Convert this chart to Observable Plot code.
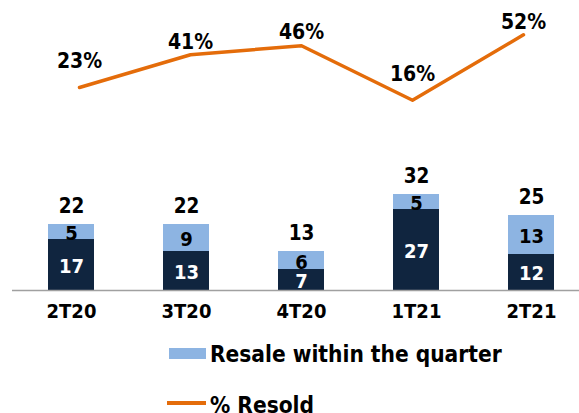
<!DOCTYPE html>
<html><head><meta charset="utf-8">
<script src="https://cdn.jsdelivr.net/npm/d3@7"></script>
<script src="https://cdn.jsdelivr.net/npm/@observablehq/plot@0.6"></script>
<style>
body{margin:0;background:#fff;}
#wrap{position:relative;width:579px;height:413px;overflow:hidden;font-family:"DejaVu Sans Condensed","DejaVu Sans",sans-serif;font-weight:bold;}
#chart svg{position:absolute;left:0;top:0;}
.legtext{position:absolute;font-size:22.5px;line-height:22.5px;color:#000;white-space:nowrap;}
.sw{position:absolute;}
</style></head><body>
<div id="wrap">
  <div id="chart"></div>
  <div id="legend"></div>
</div>
<script>
const quarters = ["2T20","3T20","4T20","1T21","2T21"];
const resaleLater = [17,13,7,27,12];
const resaleWithin = [5,9,6,5,13];
const totals = [22,22,13,32,25];
const pctResold = [23,41,46,16,52];
const legendLabels = ["Resale within the quarter","% Resold"];

const DARK = "#10253f", LIGHT = "#8db4e2", ORANGE = "#e46c0a", FONT = "'DejaVu Sans Condensed','DejaVu Sans',sans-serif";

const rows = quarters.map((q,i)=>({q, later: resaleLater[i], within: resaleWithin[i], total: totals[i], pct: pctResold[i]}));

const xScale = {domain: quarters, range: [12, 590], padding: 0.6, paddingOuter: 0.3, axis: null};
const style = {fontFamily: FONT, fontWeight: "bold", background: "transparent", overflow: "visible"};

const bars = Plot.plot({
  width: 579, height: 330,
  marginTop: 0, marginBottom: 40, marginLeft: 12, marginRight: 0,
  style,
  x: {...xScale},
  y: {domain: [0, 290/3], axis: null},
  marks: [
    Plot.barY(rows, {x: "q", y1: 0, y2: "later", fill: DARK}),
    Plot.barY(rows, {x: "q", y1: "later", y2: d => d.later + d.within, fill: LIGHT}),
    Plot.ruleY([0], {stroke: "#a0a0a0", strokeWidth: 1.3}),
    Plot.text(rows, {x: "q", y: d => d.later / 2, text: "later", fill: "white", fontSize: 20, fontWeight: "bold", dy: 1.5}),
    Plot.text(rows, {x: "q", y: d => d.later + d.within / 2, text: "within", fill: "black", fontSize: 20, fontWeight: "bold", dy: 2}),
    Plot.text(rows, {x: "q", y: "total", text: "total", fill: "black", fontSize: 20.5, fontWeight: "bold", dy: -18}),
    Plot.axisX({tickSize: 0, tickPadding: 13, fontSize: 20, fontWeight: "bold", fill: "black", label: null})
  ]
});

const line = Plot.plot({
  width: 579, height: 330,
  marginTop: 0, marginBottom: 40, marginLeft: 12, marginRight: 0,
  style,
  x: {...xScale},
  y: {domain: [0, 50], range: [128.8, 128.8 - 50*1.817], axis: null},
  marks: [
    Plot.line(rows, {x: "q", y: "pct", stroke: ORANGE, strokeWidth: 3.5, strokeLinecap: "round", strokeLinejoin: "round"}),
    Plot.text(rows.filter(d => d.pct < 30), {x: "q", y: "pct", text: d => d.pct + "%", fontSize: 21, fontWeight: "bold", fill: "black", dy: -26}),
    Plot.text(rows.filter(d => d.pct >= 30), {x: "q", y: "pct", text: d => d.pct + "%", fontSize: 21, fontWeight: "bold", fill: "black", dy: -13})
  ]
});

const chart = document.getElementById("chart");
chart.appendChild(bars);
chart.appendChild(line);

const legend = document.getElementById("legend");
legend.innerHTML = `
  <div class="sw" style="left:169px;top:348px;width:37px;height:11px;background:${LIGHT}"></div>
  <div class="legtext" style="left:210px;top:342.5px">${legendLabels[0]}</div>
  <div class="sw" style="left:167px;top:401.3px;width:39px;height:3.5px;background:${ORANGE}"></div>
  <div class="legtext" style="left:210px;top:394px">${legendLabels[1]}</div>`;
</script>
</body></html>
